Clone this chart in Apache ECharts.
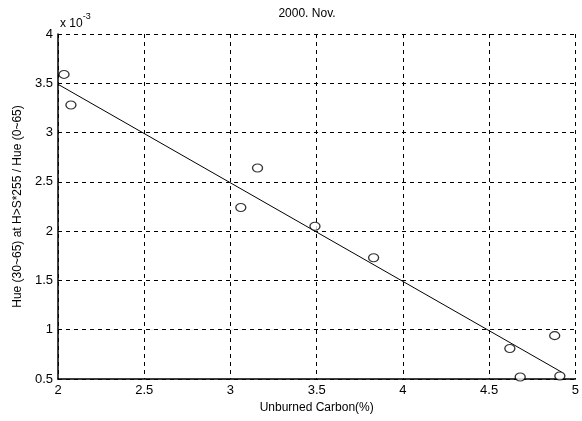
<!DOCTYPE html>
<html>
<head>
<meta charset="utf-8">
<script src="https://cdn.jsdelivr.net/npm/echarts@6/dist/echarts.min.js"></script>
<style>html,body{margin:0;padding:0;background:#fff}#c{width:582px;height:421px}</style>
</head>
<body>
<div id="c"></div>
<script>
// Data (y in units of 1e-3)
var carbonX = [2.035, 2.075, 3.06, 3.157, 3.49, 3.83, 4.62, 4.68, 4.88, 4.91];
var hueRatioY = [3.59, 3.28, 2.24, 2.64, 2.05, 1.73, 0.81, 0.52, 0.94, 0.53];
var fitX = [2.0, 4.92];
var fitY = [3.49, 0.57];
var xTicks = [2, 2.5, 3, 3.5, 4, 4.5, 5];
var yTicks = [0.5, 1, 1.5, 2, 2.5, 3, 3.5, 4];

var font = '"Liberation Sans", Arial, sans-serif';
var chart = echarts.init(document.getElementById('c'), null, {renderer: 'canvas'});
var pts = carbonX.map(function (x, i) { return [x, hueRatioY[i]]; });
var fit = fitX.map(function (x, i) { return [x, fitY[i]]; });

chart.setOption({
  animation: false,
  backgroundColor: '#fff',
  title: {
    text: '2000. Nov.',
    left: 302, top: 3, textAlign: 'center',
    textStyle: {fontFamily: font, fontSize: 12, fontWeight: 'normal', color: '#000'}
  },
  grid: {left: 58, right: 3, top: 34, bottom: 42},
  xAxis: {
    type: 'value', min: 2, max: 5, interval: 0.5,
    name: 'Unburned Carbon(%)', nameLocation: 'middle', nameGap: 23,
    nameTextStyle: {fontFamily: font, fontSize: 12, color: '#000'},
    axisLine: {show: true, lineStyle: {color: '#000', width: 1.5}},
    axisTick: {show: false},
    axisLabel: {fontFamily: font, fontSize: 13, color: '#000', margin: 5,
      formatter: function (v) { return xTicks.indexOf(v) >= 0 ? String(v) : ''; }},
    splitLine: {show: true, lineStyle: {color: '#000', type: [4, 4], width: 1}}
  },
  yAxis: {
    type: 'value', min: 0.5, max: 4, interval: 0.5,
    name: 'Hue (30~65) at H>S*255 / Hue (0~65)', nameLocation: 'middle', nameGap: 29,
    nameRotate: 90,
    nameTextStyle: {fontFamily: font, fontSize: 12, color: '#000'},
    axisLine: {show: true, lineStyle: {color: '#000', width: 1.5}},
    axisTick: {show: false},
    axisLabel: {fontFamily: font, fontSize: 13, color: '#000', margin: 5,
      formatter: function (v) { return yTicks.indexOf(v) >= 0 ? String(v) : ''; }},
    splitLine: {show: true, lineStyle: {color: '#000', type: [4, 4], width: 1}}
  },
  graphic: [{
    type: 'text', left: 60, top: 12,
    style: {
      text: '{a|x 10}{b|-3}',
      rich: {
        a: {fontFamily: font, fontSize: 12, fill: '#000', padding: [6, 0, 0, 0]},
        b: {fontFamily: font, fontSize: 9, fill: '#000', verticalAlign: 'top'}
      }
    }
  }],
  series: [{
    type: 'line', data: fit, symbol: 'none',
    lineStyle: {color: '#000', width: 1}, z: 3
  }, {
    type: 'scatter', data: pts, symbol: 'circle', symbolSize: [10, 8],
    itemStyle: {color: '#fff', borderColor: '#000', borderWidth: 1.2}, z: 4
  }]
});
</script>
</body>
</html>
